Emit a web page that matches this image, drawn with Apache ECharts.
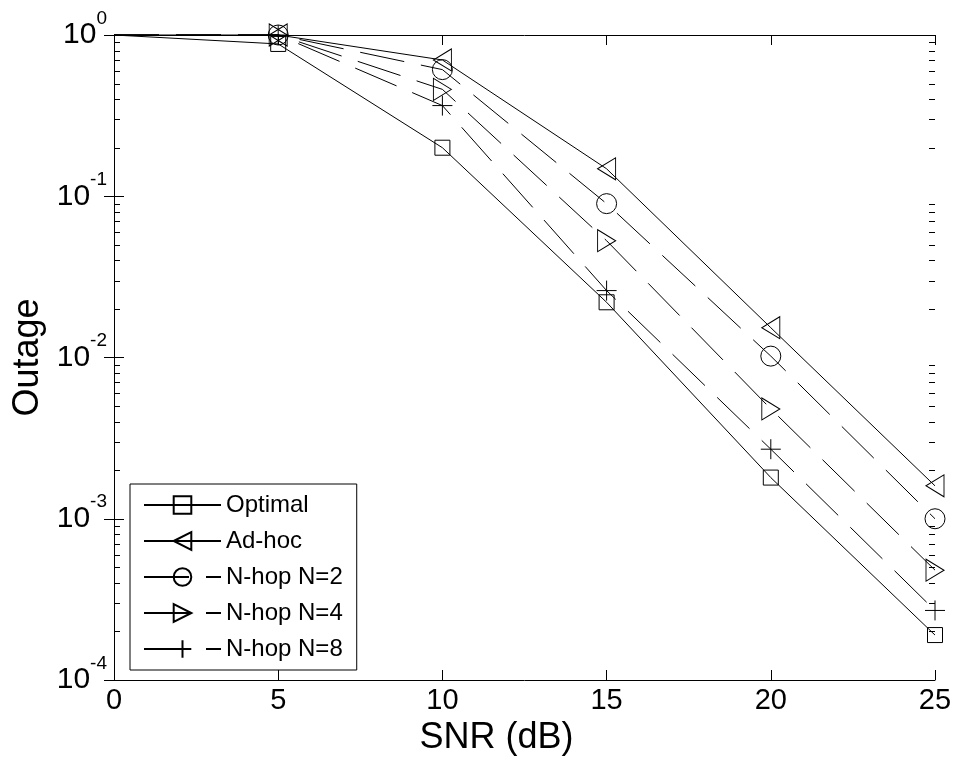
<!DOCTYPE html>
<html>
<head>
<meta charset="utf-8">
<script src="https://cdn.jsdelivr.net/npm/echarts@6/dist/echarts.min.js"></script>
<style>
    html, body { margin: 0; padding: 0; background: #fff; }
    #chart { width: 958px; height: 763px; }
</style>
</head>
<body>
<div id="chart"></div>
<script>
// SNR (dB) on x, outage probability on y (log)
var snr = [0, 5, 10, 15, 20, 25];
var optimal = [1, 0.88, 0.2, 0.022, 0.0018, 0.00019];
var adhoc = [1, 1, 0.7, 0.148, 0.0153, 0.0016];
var nhop2 = [1, 1, 0.61, 0.09, 0.0102, 0.001];
var nhop4 = [1, 1, 0.46, 0.053, 0.0048, 0.00048];
var nhop8 = [1, 1, 0.365, 0.026, 0.0027, 0.00027];
var names = ['Optimal', 'Ad-hoc', 'N-hop N=2', 'N-hop N=4', 'N-hop N=8'];
var decades = [0.0001, 0.001, 0.01, 0.1];

var font = "'Liberation Sans', Arial, sans-serif";

// minor ticks 2..9 of every decade (MATLAB style)
var minorTicks = [];
decades.forEach(function (d) {
    for (var m = 2; m <= 9; m++) {
        minorTicks.push([0, +(m * d).toPrecision(3)]);
    }
});

// first point (x=0) is drawn without a marker
function pairs(ys) {
    return snr.map(function (x, i) {
        return i === 0 ? { value: [x, ys[i]], symbol: 'none' } : [x, ys[i]];
    });
}

function makeSeries(name, ys, symbol, size, rotate, dashed) {
    return {
        name: name,
        type: 'line',
        data: pairs(ys),
        symbol: symbol,
        symbolSize: size,
        symbolRotate: rotate,
        showAllSymbol: true,
        clip: false,
        lineStyle: { color: '#000', width: 1, type: dashed ? [45, 17] : 'solid' },
        itemStyle: { color: 'transparent', borderColor: '#000', borderWidth: 1 },
        emphasis: { disabled: true },
        z: 3
    };
}

var myChart = echarts.init(document.getElementById('chart'));

myChart.setOption({
    animation: false,
    backgroundColor: '#fff',
    textStyle: { fontFamily: font, color: '#000' },
    grid: { left: 114, right: 23, top: 35, bottom: 83, outerBoundsMode: 'none' },
    legend: {
        data: names,
        orient: 'vertical',
        left: 130,
        top: 484,
        itemWidth: 77,
        itemHeight: 22,
        itemGap: 12,
        padding: [9, 14, 9, 13],
        borderColor: '#000',
        borderWidth: 1,
        borderRadius: 0,
        backgroundColor: '#fff',
        textStyle: { fontSize: 24, color: '#000', fontFamily: font }
    },
    xAxis: [
        {
            type: 'value',
            min: 0, max: 25, interval: 5,
            name: 'SNR (dB)',
            nameLocation: 'middle',
            nameGap: 38,
            nameTextStyle: { fontSize: 36, color: '#000', fontFamily: font, padding: [0, 56, 0, 0] },
            axisLine: { lineStyle: { color: '#000', width: 1 } },
            axisTick: { inside: true, length: 10, lineStyle: { color: '#000' } },
            axisLabel: { fontSize: 29, color: '#000', margin: 6, fontFamily: font },
            splitLine: { show: false }
        },
        {
            type: 'value',
            position: 'top',
            min: 0, max: 25, interval: 5,
            axisLine: { lineStyle: { color: '#000', width: 1 } },
            axisTick: { inside: true, length: 10, lineStyle: { color: '#000' } },
            axisLabel: { show: false },
            splitLine: { show: false }
        }
    ],
    yAxis: [
        {
            type: 'log',
            logBase: 10,
            min: 0.0001, max: 1,
            name: 'Outage',
            nameLocation: 'middle',
            nameGap: 66,
            nameRotate: 90,
            nameTextStyle: { fontSize: 36, color: '#000', fontFamily: font },
            axisLine: { lineStyle: { color: '#000', width: 1 } },
            axisTick: { inside: true, length: 10, lineStyle: { color: '#000' } },
            axisLabel: {
                margin: 7,
                formatter: function (v) {
                    return '{b|10}{e|' + Math.round(Math.log10(v)) + '}';
                },
                rich: {
                    b: { fontSize: 30, lineHeight: 52, color: '#000', fontFamily: font },
                    e: { fontSize: 19, lineHeight: 19, verticalAlign: 'top', color: '#000', fontFamily: font }
                }
            },
            splitLine: { show: false }
        },
        {
            type: 'log',
            logBase: 10,
            min: 0.0001, max: 1,
            position: 'right',
            axisLine: { lineStyle: { color: '#000', width: 1 } },
            axisTick: { inside: true, length: 10, lineStyle: { color: '#000' } },
            axisLabel: { show: false },
            splitLine: { show: false }
        }
    ],
    series: [
        makeSeries(names[0], optimal, 'rect', 15, 0, false),
        makeSeries(names[1], adhoc, 'triangle', [22, 18], 90, false),
        makeSeries(names[2], nhop2, 'circle', 20, 0, true),
        makeSeries(names[3], nhop4, 'triangle', [22, 18], -90, true),
        makeSeries(names[4], nhop8, 'path://M0,-10 L0,10 M-10,0 L10,0', 20, 0, true),
        {
            // minor ticks on left and right frame
            type: 'custom',
            silent: true,
            data: minorTicks,
            renderItem: function (params, api) {
                var y = Math.round(api.coord([0, api.value(1)])[1]) + 0.5;
                var cs = params.coordSys;
                return {
                    type: 'group',
                    children: [
                        { type: 'line', shape: { x1: cs.x, y1: y, x2: cs.x + 6, y2: y }, style: { stroke: '#000', lineWidth: 1 } },
                        { type: 'line', shape: { x1: cs.x + cs.width, y1: y, x2: cs.x + cs.width - 6, y2: y }, style: { stroke: '#000', lineWidth: 1 } }
                    ]
                };
            },
            z: 1
        }
    ]
});
window.onresize = function () {
    myChart.resize();
};
</script>
</body>
</html>
